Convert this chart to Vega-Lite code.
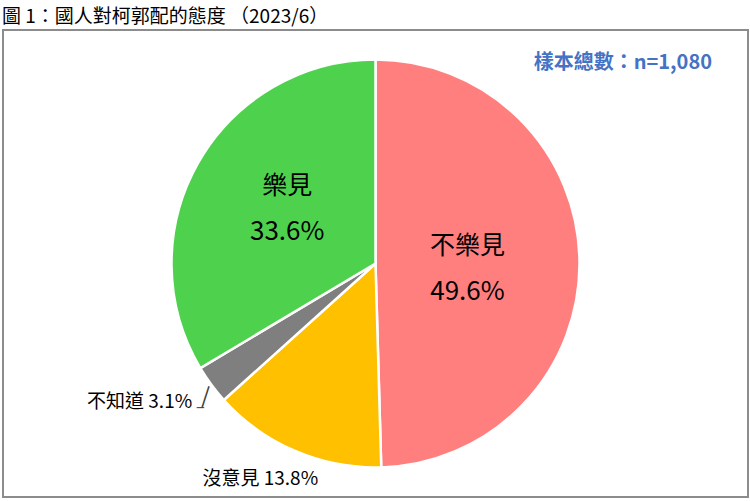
{
  "$schema": "https://vega.github.io/schema/vega-lite/v6.json",
  "autosize": "none",
  "width": 745,
  "height": 467,
  "padding": {"left": 3, "top": 30, "right": 2, "bottom": 4},
  "background": "white",
  "title": {
    "text": "圖 1：國人對柯郭配的態度 （2023/6）",
    "anchor": "start",
    "frame": "group",
    "font": "Noto Sans CJK TC",
    "fontSize": 19,
    "fontWeight": "normal",
    "color": "#000000",
    "offset": 2,
    "dx": -1
  },
  "config": {
    "view": {"stroke": null},
    "text": {"font": "Noto Sans CJK TC", "color": "#000000", "fontWeight": "normal"}
  },
  "datasets": {
    "slices": [
      {"category": "不樂見", "value": 0.496, "rank": 1, "label": "不樂見 49.6%"},
      {"category": "沒意見", "value": 0.138, "rank": 2, "label": "沒意見 13.8%"},
      {"category": "不知道", "value": 0.031, "rank": 3, "label": "不知道 3.1%"},
      {"category": "樂見", "value": 0.336, "rank": 4, "label": "樂見 33.6%"}
    ],
    "note": [{"text": "樣本總數：n=1,080"}]
  },
  "data": {"name": "slices"},
  "layer": [
    {
      "mark": {"type": "rect", "x": 0, "y": 0, "x2": {"expr": "width"}, "y2": {"expr": "height"}, "fill": null, "stroke": "#8c8c8c", "strokeWidth": 2},
      "encoding": {},
      "data": {"name": "note"}
    },
    {
      "mark": {"type": "arc", "radius": 204, "stroke": "white", "strokeWidth": 2.5},
      "encoding": {
        "theta": {"field": "value", "type": "quantitative", "stack": true},
        "order": {"field": "rank", "type": "quantitative"},
        "color": {
          "field": "category",
          "type": "nominal",
          "scale": {
            "domain": ["不樂見", "沒意見", "不知道", "樂見"],
            "range": ["#FF7F7F", "#FFC000", "#7F7F7F", "#4ED24E"]
          },
          "legend": null
        }
      }
    },
    {
      "mark": {"type": "text", "radius": 92, "dy": -16, "fontSize": 25, "baseline": "middle"},
      "encoding": {
        "theta": {"field": "value", "type": "quantitative", "stack": true},
        "order": {"field": "rank", "type": "quantitative"},
        "text": {"condition": {"test": "datum.category === '不樂見'", "field": "category"}, "value": ""}
      }
    },
    {
      "mark": {"type": "text", "radius": 92, "dy": 30, "fontSize": 26, "baseline": "middle"},
      "encoding": {
        "theta": {"field": "value", "type": "quantitative", "stack": true},
        "order": {"field": "rank", "type": "quantitative"},
        "text": {"condition": {"test": "datum.category === '不樂見'", "field": "value", "format": ".1%"}, "value": ""}
      }
    },
    {
      "mark": {"type": "text", "radius": 105, "dx": 3, "dy": -26, "fontSize": 25, "baseline": "middle"},
      "encoding": {
        "theta": {"field": "value", "type": "quantitative", "stack": true},
        "order": {"field": "rank", "type": "quantitative"},
        "text": {"condition": {"test": "datum.category === '樂見'", "field": "category"}, "value": ""}
      }
    },
    {
      "mark": {"type": "text", "radius": 105, "dx": 3, "dy": 20, "fontSize": 26, "baseline": "middle"},
      "encoding": {
        "theta": {"field": "value", "type": "quantitative", "stack": true},
        "order": {"field": "rank", "type": "quantitative"},
        "text": {"condition": {"test": "datum.category === '樂見'", "field": "value", "format": ".1%"}, "value": ""}
      }
    },
    {
      "mark": {"type": "text", "radius": 234, "dx": -23, "fontSize": 19, "baseline": "middle", "align": "center"},
      "encoding": {
        "theta": {"field": "value", "type": "quantitative", "stack": true},
        "order": {"field": "rank", "type": "quantitative"},
        "text": {"condition": {"test": "datum.category === '沒意見'", "field": "label"}, "value": ""}
      }
    },
    {
      "mark": {"type": "text", "radius": 234, "dx": 5, "fontSize": 19, "baseline": "middle", "align": "right"},
      "encoding": {
        "theta": {"field": "value", "type": "quantitative", "stack": true},
        "order": {"field": "rank", "type": "quantitative"},
        "text": {"condition": {"test": "datum.category === '不知道'", "field": "label"}, "value": ""}
      }
    },
    {
      "mark": {"type": "text", "radius": 214, "dx": 4, "dy": 6, "angle": 18, "font": "DejaVu Sans Mono", "fontSize": 19, "baseline": "middle", "align": "center", "color": "#404040"},
      "encoding": {
        "theta": {"field": "value", "type": "quantitative", "stack": true},
        "order": {"field": "rank", "type": "quantitative"},
        "text": {"condition": {"test": "datum.category === '不知道'", "value": "│"}, "value": ""}
      }
    },
    {
      "mark": {"type": "text", "radius": 214, "dx": -3, "dy": 17, "font": "DejaVu Sans Mono", "fontSize": 12, "baseline": "middle", "align": "center", "color": "#404040"},
      "encoding": {
        "theta": {"field": "value", "type": "quantitative", "stack": true},
        "order": {"field": "rank", "type": "quantitative"},
        "text": {"condition": {"test": "datum.category === '不知道'", "value": "─"}, "value": ""}
      }
    },
    {
      "mark": {
        "type": "text",
        "x": {"expr": "width - 36"},
        "y": 33,
        "align": "right",
        "baseline": "middle",
        "fontSize": 20,
        "fontWeight": "bold",
        "color": "#4472C4"
      },
      "encoding": {"text": {"field": "text"}},
      "data": {"name": "note"}
    }
  ]
}
